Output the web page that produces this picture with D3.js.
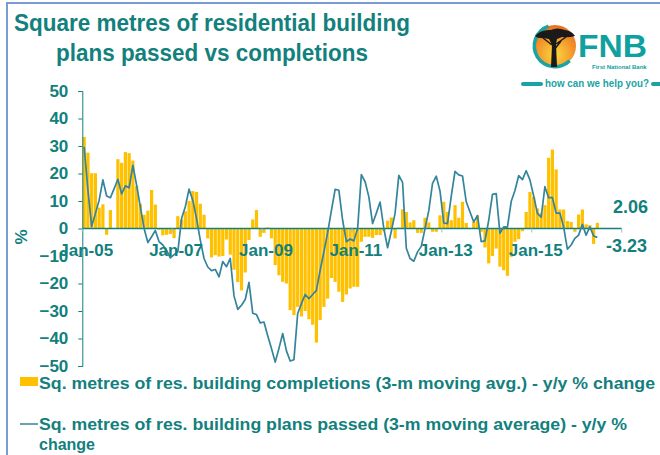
<!DOCTYPE html>
<html lang="en">
<head>
    <meta charset="UTF-8">
    <title>Square metres of residential building plans passed vs completions</title>
    <script src="https://d3js.org/d3.v7.min.js"></script>
    <style>
        body {
            margin: 0;
            background: #fff;
            font-family: "Liberation Sans", Arial, sans-serif;
        }
        .teal-text {
            fill: #12807D;
            font-weight: bold;
        }
    </style>
</head>
<body>
    <svg width="660" height="455"></svg>
    <script>
        // completions (bars), y/y % change, Jan-05 .. Jun-16
        const completions = [
            33.3, 27.6, 20.1, 20.1, 7.6, 8.8, -2.3, 6.7, 0, 25.2, 23.9, 27.8,
            27.4, 24.7, 15.5, 9, 5, 6.5, 14, 8.7, -0.5, -2.5, -2.3, -2,
            -3.5, 4.5, 3.3, 6.3, 10, 13.6, 13.3, 9, 5, -3.6, -10.5, -9.7,
            -10.2, -10, -4, -9.5, -15, -19.5, -22.5, -16, -4.2, 3.3, 6.7, -3,
            -1.6, 0.4, -3.6, -13.3, -17, -19.4, -20, -29.7, -31.5, -28.5, -32, -30,
            -33, -35, -41.5, -33.3, -28.5, -25.5, -18, -19.4, -23, -26.7, -24, -21.8,
            -21.2, -21.2, -4.8, -3, -3, -3.4, -2.4, -2.4, -1, 2.8, 4, -3.6,
            0.3, 7, 6, 2.2, 3, -1.6, -1.6, 3.9, 2.2, -1.2, -1.2, 4.8,
            9.7, 6, 3, 8.5, 3.9, 9.7, 2, -0.2, 2.4, 4.8, -1.2, -6.9,
            -12.7, -10, -7.3, -13.9, -15.2, -17.2, -10.3, -4.8, -3.9, -1, 6, 13.3,
            11.5, 7.3, 5.7, 8.5, 25.7, 28.7, 21.5, 6.9, 6.9, 2.7, 2.4, -1.2,
            5.1, 6.9, 1.5, 1.2, -5.6, 2.06
        ];

        // plans passed (line), y/y % change, Jan-05 .. Jun-16
        const plansPassed = [
            29.7, 14, 0.8, 5.5, 10.3, 17.7, 11.8, 11.2, 14.5, 17.9, 12.6, 15.5,
            14.8, 23, 15.8, 7.9, 0, -5.1, -3, -0.7, -4.8, -6, -8, -10.7,
            -9.5, -8.5, 3.6, 7.9, 14.3, 10.3, 3.6, -4.2, -10.9, -14, -15.3, -14.9,
            -17.6, -12, -13.9, -10.9, -24.5, -29.4, -27.9, -25.8, -19.6, -30.8, -31.3, -34.3,
            -34, -39, -43.6, -48.6, -43.6, -38.2, -44.5, -48.2, -47.7, -30.9, -27.3, -24,
            -25.5, -24, -22.5, -15.2, -8.5, -1.5, 6.5, 14.2, 13.9, 3, -4.8, -3.8,
            -4.5, 0, 19.6, 17, 11.5, 1.8, 5.6, 9.6, 0, -7, -1, 5.5,
            19.3, 16.8, -7.2, -10.9, -11.9, -8.5, -6.5, 0, 6.5, 16.4, 19, 13.6,
            2, 1.8, 11.8, 20.8, 19.5, 19.1, 9.7, 6, 2.4, 4.7, -4.8, -4.5,
            3, 12.4, 12.7, -1.8, 0.6, 0.5, 9.8, 13.8, 19.2, 17.8, 21, 17.7,
            11.8, 5.5, 4.1, 15.2, 11.2, 11.2, 5.6, 5.6, 0.6, -7.5, -6, -3.6,
            -2.4, 1.5, -2.4, 0.6, -2.7, -3.23
        ];

        const yTicks = [50, 40, 30, 20, 10, 0, -10, -20, -30, -40, -50];
        const xLabels = ["Jan-05", "Jan-07", "Jan-09", "Jan-11", "Jan-13", "Jan-15"];
        const lastLabels = ["2.06", "-3.23"];

        const fmt = d3.timeFormat("%b-%y");
        // category axis runs Jan-05 .. Dec-16
        const months = d3.timeMonth.range(new Date(2005, 0, 1), new Date(2017, 0, 1)).map(fmt);

        const teal = "#12807D";
        const svg = d3.select("svg");

        // slide border
        svg.append("path")
            .attr("d", "M7,455 V3 H660")
            .attr("fill", "none")
            .attr("stroke", "#7A9BD3")
            .attr("stroke-width", 2);

        // title
        const title = svg.append("g").attr("class", "teal-text")
            .attr("font-size", 23).attr("text-anchor", "middle");
        title.append("text").attr("x", 212).attr("y", 31)
            .attr("textLength", 396).attr("lengthAdjust", "spacingAndGlyphs")
            .text("Square metres of residential building");
        title.append("text").attr("x", 212).attr("y", 61)
            .attr("textLength", 312).attr("lengthAdjust", "spacingAndGlyphs")
            .text("plans passed vs completions");

        // FNB logo
        const defs = svg.append("defs");
        const grad = defs.append("radialGradient").attr("id", "sun").attr("cx", "50%").attr("cy", "70%").attr("r", "65%");
        grad.append("stop").attr("offset", "0%").attr("stop-color", "#FDD83F");
        grad.append("stop").attr("offset", "100%").attr("stop-color", "#EC7420");
        const logo = svg.append("g");
        logo.append("circle").attr("cx", 555).attr("cy", 46).attr("r", 21)
            .attr("fill", "url(#sun)");
        logo.append("path")
            .attr("d", d3.arc()({ innerRadius: 19, outerRadius: 22.5, startAngle: Math.PI * 0.75, endAngle: Math.PI * 1.9 }))
            .attr("transform", "translate(555,46)")
            .attr("fill", "#1AA3A3");
        // acacia silhouette
        logo.append("path")
            .attr("d", "M535,36 Q541,29 551,30 Q557,27 565,30 Q572,31 575,36 Q569,38 562,37 L557,39 L556,44 L557,67 L551,67 L552,45 L549,39 Q544,38 540,38 Q537,38 535,36 Z")
            .attr("fill", "#1a1a1a");
        logo.append("path")
            .attr("d", "M552,45 L543,38 M556,44 L566,37 M554,50 L561,41")
            .attr("stroke", "#1a1a1a").attr("stroke-width", 1.5).attr("fill", "none");
        logo.append("text").attr("x", 578).attr("y", 57)
            .attr("font-size", 32).attr("font-weight", "bold").attr("fill", "#0FA0A0")
            .attr("textLength", 69).attr("lengthAdjust", "spacingAndGlyphs")
            .text("FNB");
        logo.append("text").attr("x", 592).attr("y", 69)
            .attr("font-size", 6).attr("font-weight", "bold").attr("fill", "#0FA0A0")
            .text("First National Bank");
        logo.append("rect").attr("x", 521).attr("y", 82).attr("width", 22).attr("height", 4).attr("rx", 2).attr("fill", "#1AA3A3");
        logo.append("rect").attr("x", 651).attr("y", 82).attr("width", 14).attr("height", 4).attr("rx", 2).attr("fill", "#1AA3A3");
        logo.append("text").attr("x", 597).attr("y", 87).attr("text-anchor", "middle")
            .attr("font-size", 10).attr("font-weight", "bold").attr("fill", "#1AA3A3")
            .attr("textLength", 104).attr("lengthAdjust", "spacingAndGlyphs")
            .text("how can we help you?");

        // scales
        const x = d3.scaleBand()
            .domain(months)
            .range([82.3, 621.7])
            .paddingInner(0.14)
            .paddingOuter(0.07);
        const y = d3.scaleLinear().domain([-50, 50]).range([366, 91]);
        const step = x.step();
        const edge = d => x(d) - step * 0.07;

        const barData = completions.map((v, i) => ({ m: months[i], v: v }));
        const lineData = plansPassed.map((v, i) => ({ m: months[i], v: v }));

        // bars
        svg.append("g").selectAll("rect")
            .data(barData)
            .join("rect")
            .attr("x", d => x(d.m))
            .attr("width", x.bandwidth())
            .attr("y", d => y(Math.max(0, d.v)))
            .attr("height", d => Math.abs(y(d.v) - y(0)))
            .attr("fill", "#FFC000");

        // y axis
        const yAxis = svg.append("g")
            .attr("transform", "translate(82.3,0)")
            .call(d3.axisLeft(y).tickValues(yTicks).tickSize(4).tickPadding(10).tickFormat(d3.format("d")));
        yAxis.selectAll("line, path").attr("stroke", teal).attr("stroke-width", 1);
        yAxis.selectAll("text").attr("class", "teal-text").attr("font-size", 17)
            .attr("font-family", "Liberation Sans, Arial, sans-serif");

        // x axis line at zero
        svg.append("line")
            .attr("x1", 82.3).attr("x2", 621.7)
            .attr("y1", y(0)).attr("y2", y(0))
            .attr("stroke", teal).attr("stroke-width", 1.6);
        svg.append("g").selectAll("line")
            .data(months.filter((m, i) => i % 24 === 0).concat([null]))
            .join("line")
            .attr("x1", d => d ? edge(d) : 621.7)
            .attr("x2", d => d ? edge(d) : 621.7)
            .attr("y1", y(0)).attr("y2", y(0) + 4)
            .attr("stroke", "#9DBFC0").attr("stroke-width", 1);

        // plans passed line
        svg.append("path")
            .datum(lineData)
            .attr("fill", "none")
            .attr("stroke", "#34849C")
            .attr("stroke-width", 1.7)
            .attr("stroke-linejoin", "round")
            .attr("d", d3.line().x(d => x(d.m) + x.bandwidth() / 2).y(d => y(d.v)));

        // category labels
        svg.append("g").selectAll("text")
            .data(xLabels)
            .join("text")
            .attr("class", "teal-text")
            .attr("font-size", 17)
            .attr("text-anchor", "middle")
            .attr("x", d => x(d) + x.bandwidth() / 2 + 2)
            .attr("y", y(0) + 27)
            .text(d => d);

        // % label
        svg.append("text")
            .attr("class", "teal-text")
            .attr("font-size", 17)
            .attr("text-anchor", "middle")
            .attr("transform", "translate(27,237) rotate(-90)")
            .text("%");

        // end value labels
        svg.append("text").attr("class", "teal-text").attr("font-size", 18)
            .attr("x", 613).attr("y", y(completions[completions.length - 1]) - 10)
            .text(lastLabels[0]);
        svg.append("text").attr("class", "teal-text").attr("font-size", 18)
            .attr("x", 606).attr("y", y(plansPassed[plansPassed.length - 1]) + 15)
            .text(lastLabels[1]);

        // legend
        const legend = svg.append("g").attr("class", "teal-text").attr("font-size", 16);
        legend.append("rect").attr("x", 20).attr("y", 377).attr("width", 18).attr("height", 9).attr("fill", "#FFC000");
        legend.append("text").attr("x", 39).attr("y", 389)
            .attr("textLength", 616).attr("lengthAdjust", "spacingAndGlyphs")
            .text("Sq. metres of res. building completions (3-m moving avg.) - y/y % change");
        legend.append("line").attr("x1", 20).attr("x2", 38).attr("y1", 424).attr("y2", 424)
            .attr("stroke", "#34849C").attr("stroke-width", 1.5);
        legend.append("text").attr("x", 39).attr("y", 430)
            .attr("textLength", 588).attr("lengthAdjust", "spacingAndGlyphs")
            .text("Sq. metres of res. building plans passed (3-m moving average) - y/y %");
        legend.append("text").attr("x", 39).attr("y", 450)
            .text("change");
    </script>
</body>
</html>
